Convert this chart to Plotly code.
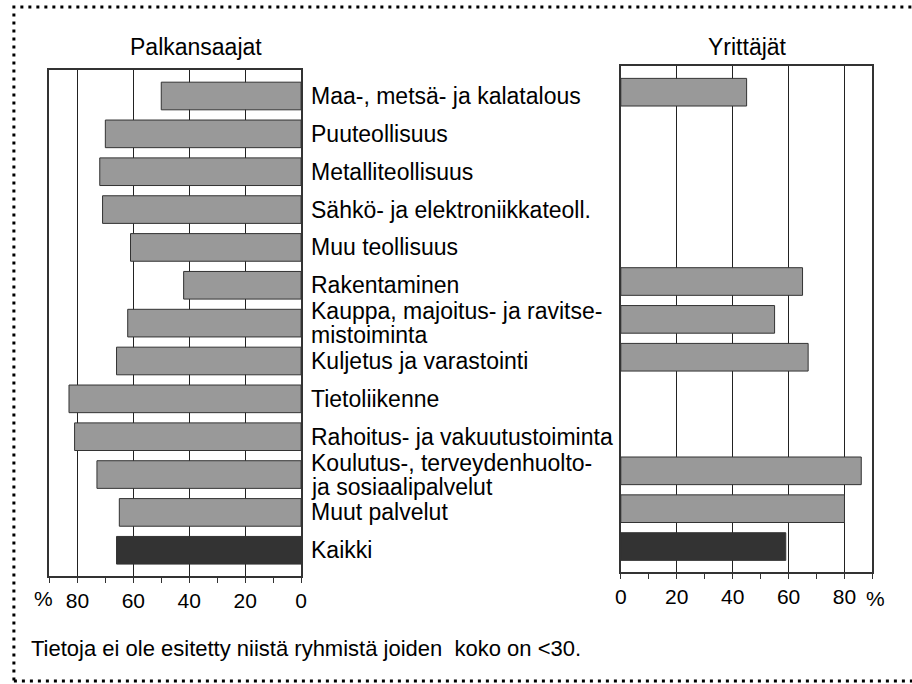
import plotly.graph_objects as go

W, H = 912, 684

# Data
categories = [
    "Maa-, metsä- ja kalatalous",
    "Puuteollisuus",
    "Metalliteollisuus",
    "Sähkö- ja elektroniikkateoll.",
    "Muu teollisuus",
    "Rakentaminen",
    "Kauppa, majoitus- ja ravitse-|mistoiminta",
    "Kuljetus ja varastointi",
    "Tietoliikenne",
    "Rahoitus- ja vakuutustoiminta",
    "Koulutus-, terveydenhuolto-|ja sosiaalipalvelut",
    "Muut palvelut",
    "Kaikki",
]
palkansaajat = [50, 70, 72, 71, 61, 42, 62, 66, 83, 81, 73, 65, 66]
yrittajat = [45, None, None, None, None, 65, 55, 67, None, None, 86, 80, 59]
x_ticks = [0, 20, 40, 60, 80]

bar_colors = ["#999999"] * (len(categories) - 1) + ["#333333"]
FONT = "Arial, Liberation Sans, sans-serif"


def px_x(v):
    return v / W


def px_y(v):
    return 1 - v / H


fig = go.Figure()

fig.add_trace(go.Bar(
    x=palkansaajat, y=categories, orientation="h",
    xaxis="x", yaxis="y",
    marker=dict(color=bar_colors, line=dict(color="#333333", width=1)),
    showlegend=False,
))
fig.add_trace(go.Bar(
    x=yrittajat, y=categories, orientation="h",
    xaxis="x2", yaxis="y2",
    marker=dict(color=bar_colors, line=dict(color="#333333", width=1)),
    showlegend=False,
))

xaxis_common = dict(
    tickvals=x_ticks, ticks="outside", ticklen=5, tickcolor="#333333",
    minor=dict(dtick=10, ticks="outside", ticklen=5, tickcolor="#333333", showgrid=False),
    showgrid=True, gridcolor="#222222", gridwidth=1,
    showline=True, linecolor="#333333", linewidth=1.5, mirror=True,
    zeroline=False, tickfont=dict(family=FONT, size=21, color="black"),
    fixedrange=True,
)
yaxis_common = dict(
    type="category", categoryarray=categories, range=[12.68, -0.70],
    showticklabels=False, ticks="",
    showline=True, linecolor="#333333", linewidth=1.5, mirror=True,
    showgrid=False, zeroline=False, fixedrange=True,
)

fig.update_layout(
    width=W, height=H,
    margin=dict(l=0, r=0, t=0, b=0),
    paper_bgcolor="white", plot_bgcolor="white",
    bargap=0.27,
    xaxis=dict(domain=[px_x(44), px_x(299)], range=[90, 0], anchor="y", **xaxis_common),
    yaxis=dict(domain=[px_y(576), px_y(69.5)], anchor="x", **yaxis_common),
    xaxis2=dict(domain=[px_x(623), px_x(878)], range=[0, 90], anchor="y2", **xaxis_common),
    yaxis2=dict(domain=[px_y(572.3), px_y(65.7)], anchor="x2", **yaxis_common),
)

annotations = []
# category labels between the panels (two-line ones split for tight spacing)
for cat in categories:
    lines = cat.split("|")
    for k, line in enumerate(lines):
        shift = 0 if len(lines) == 1 else 12 - 24 * k
        annotations.append(dict(
            x=px_x(307), xref="paper", y=cat, yref="y", text=line,
            xanchor="left", yanchor="middle", showarrow=False,
            yshift=shift,
            font=dict(family=FONT, size=23, color="black"),
        ))

# panel titles, % signs and footnote
annotations += [
    dict(x=px_x(192.5), y=px_y(47), xref="paper", yref="paper", text="Palkansaajat",
         xanchor="center", yanchor="middle",
         showarrow=False, font=dict(family=FONT, size=23, color="black")),
    dict(x=px_x(751.7), y=px_y(47), xref="paper", yref="paper", text="Yrittäjät",
         xanchor="center", yanchor="middle",
         showarrow=False, font=dict(family=FONT, size=23, color="black")),
    dict(x=px_x(38), y=px_y(598), xref="paper", yref="paper", text="%",
         xanchor="center", yanchor="middle",
         showarrow=False, font=dict(family=FONT, size=21, color="black")),
    dict(x=px_x(881), y=px_y(598), xref="paper", yref="paper", text="%",
         xanchor="center", yanchor="middle",
         showarrow=False, font=dict(family=FONT, size=21, color="black")),
    dict(x=px_x(23), y=px_y(648), xref="paper", yref="paper",
         xanchor="left", yanchor="middle",
         text="Tietoja ei ole esitetty niistä ryhmistä joiden  koko on <30.",
         showarrow=False, font=dict(family=FONT, size=22, color="black")),
]
fig.update_layout(annotations=annotations)

# dotted frame round the whole figure (right side runs off the page)
fig.add_shape(type="rect", xref="paper", yref="paper",
              x0=px_x(8), x1=px_x(940), y0=px_y(681), y1=px_y(7),
              line=dict(color="black", width=3, dash="3px,5px"))

fig.write_html("out.html", config={"displayModeBar": False},
               post_script="document.body.style.margin='0px';")
